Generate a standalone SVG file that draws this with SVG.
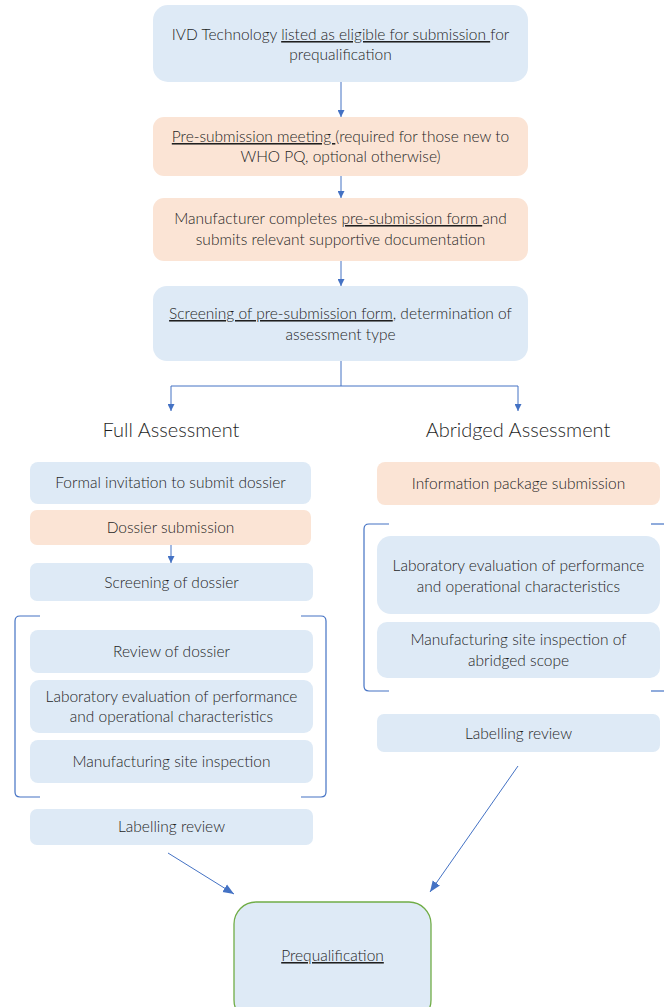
<svg xmlns="http://www.w3.org/2000/svg" width="664" height="1007" viewBox="0 0 664 1007">
<style>
text{font-family:Lato,"Open Sans","Liberation Sans",sans-serif;font-weight:300;font-size:15.5px;fill:#1f1f1f;text-anchor:middle}
.blue{fill:#DEEAF6;stroke:none}
.orange{fill:#FBE4D5;stroke:none}
.u{text-decoration:underline}
.h{font-size:20px}
.ln{stroke:#4472C4;stroke-width:1;fill:none}
.br{stroke:#4472C4;stroke-width:1.2;fill:none}
</style>
<defs>
<marker id="ah" viewBox="0 0 10 10" refX="10" refY="5" markerWidth="7" markerHeight="7" orient="auto" markerUnits="userSpaceOnUse">
<path d="M0,0 L10,5 L0,10 z" fill="#4472C4"/>
</marker>
<marker id="ahb" viewBox="0 0 10 10" refX="10" refY="5" markerWidth="11" markerHeight="11" orient="auto" markerUnits="userSpaceOnUse">
<path d="M0,1 L10,5 L0,9 z" fill="#4472C4"/>
</marker>
</defs>

<g id="connectors">
<line class="ln" x1="341" y1="82" x2="341" y2="117" marker-end="url(#ah)"/>
<line class="ln" x1="341" y1="176" x2="341" y2="198" marker-end="url(#ah)"/>
<line class="ln" x1="341" y1="261" x2="341" y2="286" marker-end="url(#ah)"/>
<polyline class="ln" points="341,361 341,386 171,386 171,411" marker-end="url(#ah)"/>
<polyline class="ln" points="341,386 518,386 518,411" marker-end="url(#ah)"/>
<line class="ln" x1="171" y1="545" x2="171" y2="563" marker-end="url(#ah)"/>
<line class="ln" x1="168" y1="853" x2="234" y2="894" marker-end="url(#ahb)"/>
<line class="ln" x1="518" y1="766" x2="430" y2="892" marker-end="url(#ahb)"/>
</g>

<g id="n1">
<rect class="blue" x="153" y="5" width="375" height="77" rx="15"/>
<text x="340.5" y="40">IVD Technology <tspan class="u">listed as eligible for submission </tspan>for</text>
<text x="340.5" y="60">prequalification</text>
</g>
<g id="n2">
<rect class="orange" x="153" y="117" width="375" height="59" rx="11"/>
<text x="340.5" y="142"><tspan class="u">Pre-submission meeting </tspan>(required for those new to</text>
<text x="340.5" y="162">WHO PQ, optional otherwise)</text>
</g>
<g id="n3">
<rect class="orange" x="153" y="198" width="375" height="63" rx="11"/>
<text x="340.5" y="224">Manufacturer completes <tspan class="u">pre-submission form </tspan>and</text>
<text x="340.5" y="245">submits relevant supportive documentation</text>
</g>
<g id="n4">
<rect class="blue" x="153" y="286" width="375" height="75" rx="14"/>
<text x="340.5" y="319"><tspan class="u">Screening of pre-submission form</tspan>, determination of</text>
<text x="340.5" y="340">assessment type</text>
</g>

<g id="full-label"><text class="h" x="171" y="437">Full Assessment</text></g>
<g id="abridged-label"><text class="h" x="518" y="437">Abridged Assessment</text></g>

<g id="f1">
<rect class="blue" x="30" y="462" width="281" height="42" rx="8"/>
<text x="170.5" y="488">Formal invitation to submit dossier</text>
</g>
<g id="f2">
<rect class="orange" x="30" y="510" width="281" height="35" rx="7"/>
<text x="170.5" y="533">Dossier submission</text>
</g>
<g id="f3">
<rect class="blue" x="30" y="563" width="283" height="38" rx="7"/>
<text x="171.5" y="588">Screening of dossier</text>
</g>
<g id="f-bracket">
<path class="br" d="M40,616 L20,616 Q15,616 15,621 L15,792 Q15,797 20,797 L40,797"/>
<path class="br" d="M301,616 L321,616 Q326,616 326,621 L326,792 Q326,797 321,797 L301,797"/>
</g>
<g id="f4">
<rect class="blue" x="30" y="630" width="283" height="43" rx="8"/>
<text x="171.5" y="657">Review of dossier</text>
</g>
<g id="f5">
<rect class="blue" x="30" y="680" width="283" height="53" rx="9"/>
<text x="171.5" y="702">Laboratory evaluation of performance</text>
<text x="171.5" y="722">and operational characteristics</text>
</g>
<g id="f6">
<rect class="blue" x="30" y="740" width="283" height="43" rx="8"/>
<text x="171.5" y="767">Manufacturing site inspection</text>
</g>
<g id="f7">
<rect class="blue" x="30" y="809" width="283" height="36" rx="7"/>
<text x="171.5" y="832">Labelling review</text>
</g>

<g id="a1">
<rect class="orange" x="377" y="462" width="283" height="43" rx="8"/>
<text x="518.5" y="489">Information package submission</text>
</g>
<g id="a-bracket">
<path class="br" d="M389,524 L369,524 Q364,524 364,529 L364,686 Q364,691 369,691 L389,691"/>
<path class="br" d="M651,524 L664,524"/>
<path class="br" d="M651,691 L664,691"/>
</g>
<g id="a2">
<rect class="blue" x="377" y="536" width="283" height="78" rx="14"/>
<text x="518.5" y="571">Laboratory evaluation of performance</text>
<text x="518.5" y="592">and operational characteristics</text>
</g>
<g id="a3">
<rect class="blue" x="377" y="622" width="283" height="56" rx="10"/>
<text x="518.5" y="645">Manufacturing site inspection of</text>
<text x="518.5" y="666">abridged scope</text>
</g>
<g id="a4">
<rect class="blue" x="377" y="714" width="283" height="38" rx="7"/>
<text x="518.5" y="739">Labelling review</text>
</g>

<g id="prequalification">
<rect x="234" y="902" width="197" height="120" rx="22" fill="#DEEAF6" stroke="#70AD47" stroke-width="1.3"/>
<text x="332.5" y="961"><tspan class="u">Prequalification</tspan></text>
</g>
</svg>
